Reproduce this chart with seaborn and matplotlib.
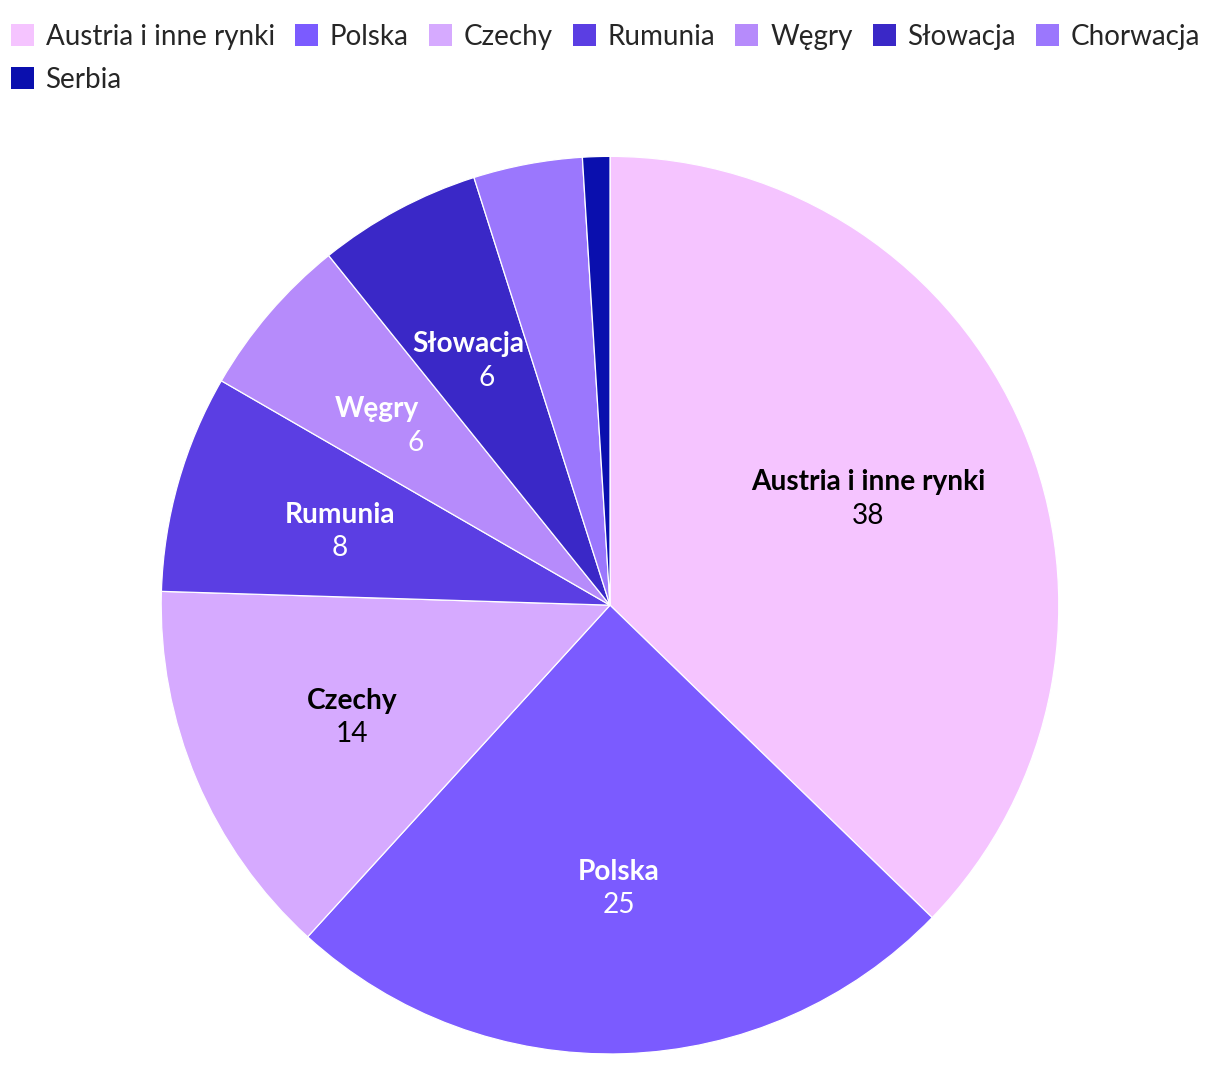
import numpy as np
import matplotlib
matplotlib.use("Agg")
import matplotlib.pyplot as plt
import seaborn as sns
from matplotlib.patches import Patch

categories = ["Austria i inne rynki", "Polska", "Czechy", "Rumunia", "Węgry", "Słowacja", "Chorwacja", "Serbia"]
values = [38, 25, 14, 8, 6, 6, 4, 1]
colors = ["#F5C4FF", "#7B5BFF", "#D6AAFF", "#5B3EE3", "#B68BFB", "#3A28C7", "#9B77FD", "#0A0FAE"]
label_colors = ["black", "white", "black", "white", "white", "white", None, None]
# horizontal nudges (points) of name / value lines, to mimic the label placement
name_dx = [0, 0, 0, 0, -14.4, -6.5, 0, 0]
value_dx = [0, 0, 0, 0, 13.7, 6.5, 0, 0]

sns.set_theme(style="white")
plt.rcParams["font.family"] = ["Lato", "DejaVu Sans"]
palette = sns.color_palette(colors)

fig = plt.figure(figsize=(12.2, 10.66), dpi=100)
ax = fig.add_axes([0.132, 0.0113, 0.736, 0.842])
wedges, _ = ax.pie(values, colors=palette, startangle=90, counterclock=False,
                   wedgeprops=dict(edgecolor="white", linewidth=0.9), radius=1.0)
ax.set_xlim(-1, 1)
ax.set_ylim(-1, 1)
ax.set_aspect("equal")
ax.axis("off")

for w, cat, val, tc, ndx, vdx in zip(wedges, categories, values, label_colors, name_dx, value_dx):
    if tc is None:
        continue
    ang = np.deg2rad((w.theta1 + w.theta2) / 2)
    r = 0.625
    x, y = r * np.cos(ang), r * np.sin(ang)
    ax.annotate(cat, (x, y), xytext=(ndx, 9.8), textcoords="offset points",
                ha="center", va="center", fontsize=20.2, fontweight="bold", color=tc)
    ax.annotate(str(val), (x, y), xytext=(vdx, -14.3), textcoords="offset points",
                ha="center", va="center", fontsize=20.2, color=tc)

handles = [Patch(facecolor=c, edgecolor="none") for c in colors]
order = [0, 7, 1, 2, 3, 4, 5, 6]
fig.legend([handles[i] for i in order], [categories[i] for i in order],
           loc="upper left", bbox_to_anchor=(-0.0005, 0.988), ncol=7, frameon=False,
           fontsize=20, handlelength=0.83, handleheight=0.83, handletextpad=0.43,
           columnspacing=0.72, labelspacing=0.6, borderaxespad=0.2, borderpad=0.2)

fig.savefig("out.png", dpi=100, facecolor="white")
